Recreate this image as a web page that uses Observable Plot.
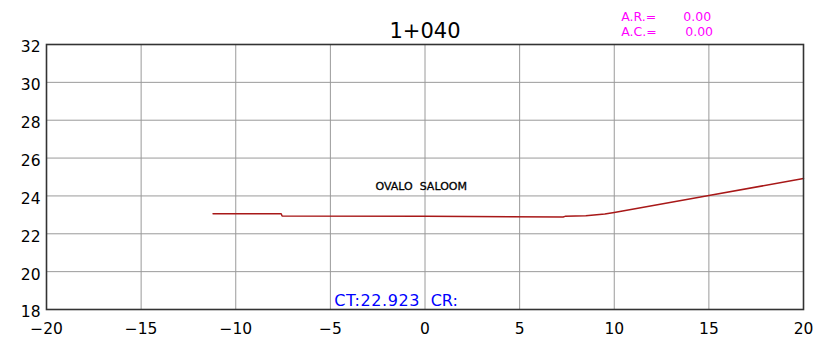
<!DOCTYPE html>
<html>
<head>
<meta charset="utf-8">
<script src="https://cdn.jsdelivr.net/npm/d3@7"></script>
<script src="https://cdn.jsdelivr.net/npm/@observablehq/plot@0.6"></script>
<style>
  html, body { margin: 0; padding: 0; background: #fff; }
  #chart svg { display: block; font-family: "DejaVu Sans", sans-serif; }
</style>
</head>
<body>
<div id="chart"></div>
<script>
// Terrain profile (offset, elevation)
const offsets    = [-11.2, -7.6, -7.55, 0, 7.3, 7.4, 8.5, 9.5, 10, 15, 20];
const elevations = [23.06, 23.06, 22.94, 22.923, 22.89, 22.92, 22.95, 23.05, 23.13, 24.02, 24.92];

const xTicks = [-20, -15, -10, -5, 0, 5, 10, 15, 20];
const yTicks = [18, 20, 22, 24, 26, 28, 30, 32];

const titleText = ["1+040"];
const arLabel = ["A.R.="], arValue = ["0.00"];
const acLabel = ["A.C.="], acValue = ["0.00"];
const surfaceLabel = ["OVALO  SALOOM"];
const ctLabel = ["CT:22.923"], crLabel = ["CR:"];

const profile = offsets.map((x, i) => ({x, y: elevations[i]}));

const chart = Plot.plot({
  width: 817,
  height: 337,
  marginLeft: 46,
  marginRight: 14,
  marginTop: 44,
  marginBottom: 28,
  style: {fontFamily: "DejaVu Sans, sans-serif", background: "#fff"},
  x: {domain: [-20, 20]},
  y: {domain: [18, 32]},
  marks: [
    Plot.gridX(xTicks, {stroke: "#9a9a9a", strokeOpacity: 1, strokeWidth: 1}),
    Plot.gridY(yTicks, {stroke: "#9a9a9a", strokeOpacity: 1, strokeWidth: 1}),
    Plot.axisX(xTicks, {tickSize: 0, tickPadding: 13, fontSize: 15.5, fill: "#000", label: null}),
    Plot.axisY(yTicks, {tickSize: 0, tickPadding: 6, fontSize: 15.5, fill: "#000", dy: 3, label: null}),
    Plot.line(profile, {x: "x", y: "y", stroke: "#a81818", strokeWidth: 1.5}),
    Plot.frame({stroke: "#333", strokeWidth: 1.6}),
    Plot.text(titleText, {x: 0, y: 32, text: d => d, lineAnchor: "bottom", dy: -7, fontSize: 21, fill: "#000"}),
    Plot.text(arLabel, {x: 10.37, y: 32, text: d => d, textAnchor: "start", lineAnchor: "bottom", dy: -23.5, fontSize: 12.5, fill: "#ff00ff", fontStretch: "condensed"}),
    Plot.text(arValue, {x: 13.65, y: 32, text: d => d, textAnchor: "start", lineAnchor: "bottom", dy: -23.5, fontSize: 12.5, fill: "#ff00ff", fontStretch: "condensed"}),
    Plot.text(acLabel, {x: 10.37, y: 32, text: d => d, textAnchor: "start", lineAnchor: "bottom", dy: -8.5, fontSize: 12.5, fill: "#ff00ff", fontStretch: "condensed"}),
    Plot.text(acValue, {x: 13.75, y: 32, text: d => d, textAnchor: "start", lineAnchor: "bottom", dy: -8.5, fontSize: 12.5, fill: "#ff00ff", fontStretch: "condensed"}),
    Plot.text(surfaceLabel, {x: -0.2, y: 24.3, text: d => d, lineAnchor: "bottom", fontSize: 11, fill: "#000", stroke: "#000", strokeWidth: 0.3}),
    Plot.text(ctLabel, {x: -4.8, y: 18, text: d => d, textAnchor: "start", lineAnchor: "bottom", dy: -4, fontSize: 16, fill: "#0000ff"}),
    Plot.text(crLabel, {x: 0.3, y: 18, text: d => d, textAnchor: "start", lineAnchor: "bottom", dy: -4, fontSize: 16, fill: "#0000ff"})
  ]
});

// slightly wider letter spacing for the CAD-style blue annotation
d3.select(chart).selectAll("text")
  .filter(function() { return this.textContent === ctLabel[0]; })
  .attr("letter-spacing", "0.6");

document.getElementById("chart").appendChild(chart);
</script>
</body>
</html>
